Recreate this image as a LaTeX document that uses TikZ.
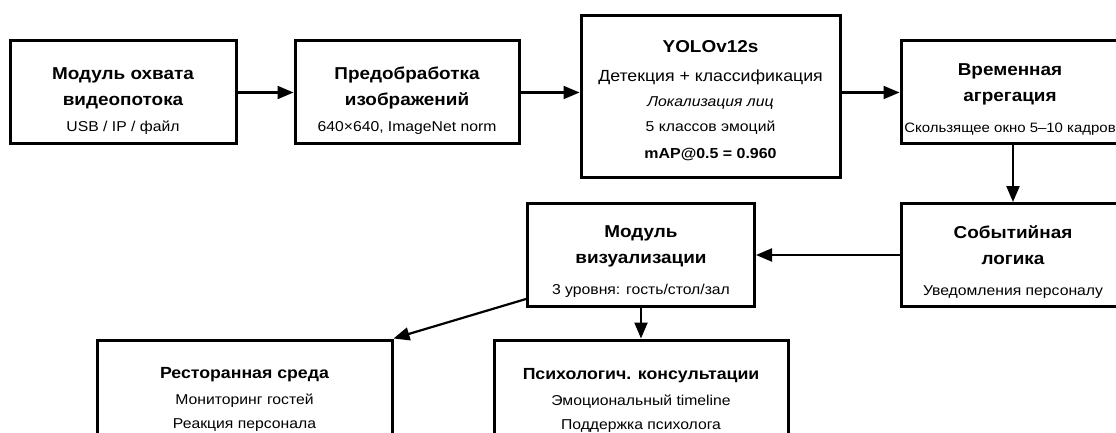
\documentclass[tikz,border=0pt]{standalone}
\usepackage{fontspec}
\setmainfont{Liberation Sans}[FakeStretch=1.1]
\usetikzlibrary{arrows.meta}

\newcommand\subtx{\fontsize{14.3}{17}\selectfont}

\begin{document}
\begin{tikzpicture}[x=1pt,y=-1pt,
    blk/.style={draw=black, line width=3pt, fill=white, inner sep=0pt,
      minimum width=224pt, minimum height=103pt},
    txt/.style={align=center, inner sep=0pt, font=\fontsize{17.2}{26}\selectfont},
    flow/.style={line width=2.2pt, -{Triangle[length=16pt,width=13pt]}}]
\fill[white] (0,0) rectangle (1116,433);
\useasboundingbox (0,0) rectangle (1116,433);

\node[blk, minimum width=226pt] (cap) at (123,92.5) {};
\node[blk] (pre) at (407,92.5) {};
\node[blk, minimum width=259pt, minimum height=161pt] (yolo) at (710.5,96.5) {};
\node[blk] (agg) at (1013,92.5) {};
\node[blk] (evt) at (1013,255) {};
\node[blk, minimum width=227pt] (vis) at (641,255) {};
\node[blk, minimum width=294pt] (psy) at (641,391.5) {};
\node[blk, minimum width=295pt] (rest) at (244.5,391.5) {};

\node[txt] (capT) at (123,101) {\bfseries Модуль охвата\\\bfseries видеопотока\\\subtx USB / IP / файл};
\node[txt] (preT) at (407,101) {\bfseries Предобработка\\\bfseries изображений\\\subtx 640×640, ImageNet norm};
\node[txt, font=\fontsize{17.2}{25}\selectfont] (yoloT) at (710.5,101) {\bfseries YOLOv12s\\[4pt]\fontsize{16.1}{19}\selectfont Детекция + классификация\\\subtx\itshape Локализация лиц\\\subtx 5 классов эмоций\\[2pt]\fontsize{14.5}{17}\selectfont\bfseries mAP@0.5 = 0.960};
\node[txt] (aggT) at (1010,99.5) {\bfseries Временная\\\bfseries агрегация\\[5pt]\fontsize{13.6}{16}\selectfont Скользящее окно 5–10 кадров};
\node[txt] (evtT) at (1013,262) {\bfseries Событийная\\\bfseries логика\\[5pt]\subtx Уведомления персоналу};
\node[txt] (visT) at (641,262) {\bfseries Модуль\\\bfseries визуализации\\[5pt]\subtx 3 уровня: гость/стол/зал};
\node[txt, font=\fontsize{16.1}{23.5}\selectfont] (psyT) at (641,400) {\bfseries Психологич. консультации\\[3pt]\subtx Эмоциональный timeline\\\subtx Поддержка психолога};
\node[txt, font=\fontsize{16.1}{23.5}\selectfont] (restT) at (244.5,399) {\bfseries Ресторанная среда\\[3pt]\subtx Мониторинг гостей\\\subtx Реакция персонала};

\draw[flow] (cap) -- (pre);
\draw[flow] (pre.east) -- (pre.east -| yolo.west);
\draw[flow] (yolo.east |- agg.west) -- (agg.west);
\draw[flow] (agg) -- (evt);
\draw[flow] (evt) -- (vis);
\draw[flow] (vis) -- (psy);
\draw[flow] ([yshift=9pt]vis.south west) -- (rest.north east);
\end{tikzpicture}
\end{document}
